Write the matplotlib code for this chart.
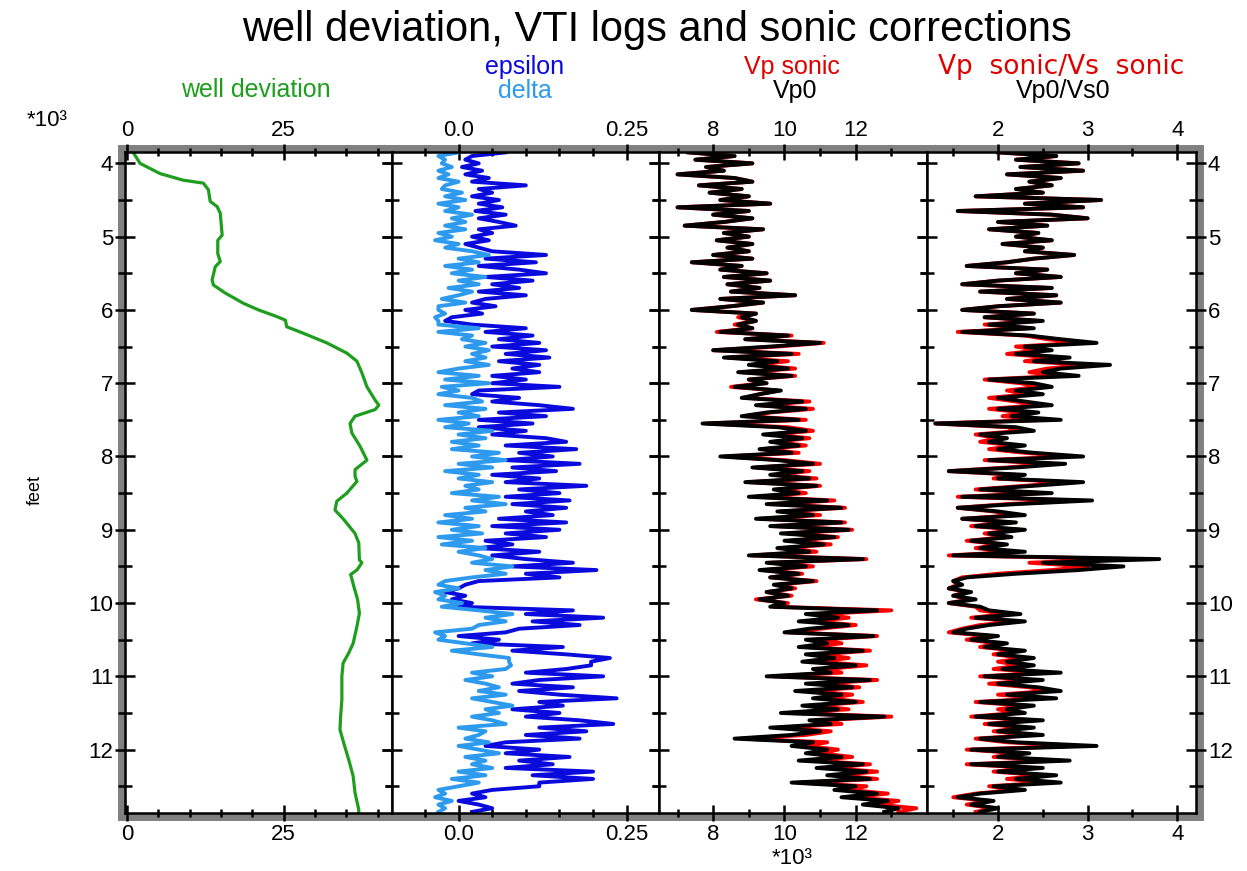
import numpy as np
import matplotlib
matplotlib.use("Agg")
import matplotlib.pyplot as plt
from matplotlib.ticker import FixedLocator, FuncFormatter
from matplotlib.patches import Rectangle

plt.rcParams['font.family'] = ['Liberation Sans', 'DejaVu Sans']

# ---- data ----
# log samples every 50 ft
depth = np.arange(3850, 12900, 50)

# well deviation (deg), read at the bends of the curve
dev_depth = [3850, 4000, 4140, 4230, 4270, 4360, 4520, 4590, 4680, 4980,
             5050, 5230, 5340, 5410, 5590, 5660, 5770, 5910, 6000, 6090,
             6140, 6230, 6320, 6450, 6590, 6700, 6860, 7050, 7230, 7300,
             7360, 7450, 7550, 7680, 7860, 8050, 8180, 8270, 8340, 8500,
             8610, 8730, 8860, 9050, 9180, 9410, 9450, 9550, 9610, 9770,
             9950, 10140, 10320, 10550, 10680, 10820, 11000, 11320, 11550, 11730,
             11910, 12140, 12360, 12590, 12820, 12865]
dev_angle = [1.0, 2.1, 5.3, 9.0, 12.2, 13.0, 13.3, 14.4, 14.9, 15.2,
             14.5, 14.5, 14.9, 14.1, 13.6, 13.8, 15.7, 18.6, 21.0, 23.9,
             25.3, 25.5, 28.2, 31.9, 35.1, 36.7, 37.5, 38.3, 39.6, 40.2,
             39.6, 36.4, 35.6, 35.9, 37.2, 38.3, 36.4, 36.4, 36.7, 35.1,
             33.5, 33.2, 34.6, 36.4, 37.0, 37.1, 37.5, 36.7, 35.7, 36.2,
             36.8, 37.1, 36.7, 36.1, 35.4, 34.5, 34.3, 34.3, 34.1, 34.0,
             34.6, 35.4, 36.1, 36.4, 37.0, 37.0]

epsilon = [
    0.07, 0.02, 0.01, 0.03, 0.005, 0.035, 0.01, 0.045, 0.02, 0.10, 0.03, 0.05, 0.02, 0.06, 0.03, 0.065, 0.025, 0.07, 0.03, 0.06,
    0.085, 0.03, 0.05, 0.02, 0.045, 0.01, 0.03, 0.05, 0.13, 0.04, 0.115, 0.03, 0.09, 0.13, 0.04, 0.11, 0.05, 0.09, 0.03, 0.10,
    0.04, 0.02, 0.055, 0.01, 0.035, -0.01, -0.02, 0.02, 0.10, 0.04, 0.11, 0.06, 0.12, 0.05, 0.13, 0.07, 0.135, 0.06, 0.12, 0.08,
    0.12, 0.05, 0.10, 0.05, 0.15, 0.03, 0.02, 0.09, 0.05, 0.12, 0.17, 0.06, 0.13, 0.03, 0.11, 0.03, 0.10, 0.05, 0.13, 0.16,
    0.07, 0.175, 0.09, 0.14, 0.07, 0.18, 0.08, 0.145, 0.05, 0.12, 0.07, 0.19, 0.09, 0.15, 0.07, 0.165, 0.08, 0.16, 0.10, 0.14,
    0.06, 0.16, 0.05, 0.15, 0.07, 0.13, 0.04, 0.08, 0.03, 0.12, 0.05, 0.10, 0.17, 0.08, 0.205, 0.10, 0.15, 0.03, 0.01, 0.0,
    -0.02, 0.01, -0.01, 0.02, 0.0, 0.17, 0.10, 0.215, 0.11, 0.18, 0.09, 0.07, 0.0, 0.06, 0.02, 0.155, 0.08, 0.16, 0.225, 0.197,
    0.197, 0.16, 0.10, 0.215, 0.12, 0.08, 0.17, 0.09, 0.15, 0.235, 0.12, 0.155, 0.08, 0.15, 0.10, 0.18, 0.23, 0.12, 0.19, 0.10,
    0.18, 0.07, 0.04, 0.12, 0.07, 0.165, 0.09, 0.14, 0.07, 0.20, 0.11, 0.20, 0.12, 0.12, 0.05, 0.02, 0.04, 0.0, 0.03, 0.05,
    0.02]

delta = [
    0.0, -0.03, -0.02, -0.025, -0.01, -0.03, -0.015, -0.03, 0.0, -0.02, -0.025, 0.005, -0.02, 0.01, -0.03, 0.0, -0.02, 0.02, -0.01, 0.01,
    -0.02, 0.01, -0.03, -0.01, -0.035, 0.0, -0.02, 0.02, 0.045, 0.0, 0.03, -0.02, 0.02, -0.01, 0.04, 0.0, 0.03, -0.015, 0.02, 0.0,
    -0.025, 0.01, -0.03, -0.03, -0.02, -0.035, -0.03, -0.03, 0.03, -0.03, 0.02, 0.005, 0.04, 0.01, 0.045, 0.02, 0.04, 0.01, 0.045, 0.0,
    -0.03, 0.03, -0.02, 0.045, -0.025, 0.0, -0.03, 0.02, 0.035, -0.02, 0.04, 0.0, 0.03, -0.03, 0.015, -0.02, 0.05, 0.0, 0.04, -0.01,
    0.03, -0.01, 0.06, 0.02, 0.07, 0.0, 0.05, -0.02, 0.03, 0.0, 0.05, 0.01, 0.03, -0.01, 0.06, 0.02, 0.07, 0.01, 0.04, -0.02,
    0.02, -0.03, 0.03, -0.01, 0.035, -0.03, 0.02, -0.025, 0.04, 0.0, 0.03, 0.05, 0.02, 0.08, 0.04, 0.07, 0.02, -0.02, -0.03, 0.0,
    -0.035, -0.02, -0.03, 0.005, -0.025, 0.03, 0.08, 0.04, 0.07, 0.03, 0.02, -0.035, -0.02, -0.03, 0.01, 0.05, -0.01, 0.03, 0.075, 0.075,
    0.078, 0.07, 0.02, 0.05, 0.01, 0.04, 0.06, 0.03, 0.07, 0.02, 0.05, 0.08, 0.04, 0.06, 0.02, 0.05, 0.07, 0.0, 0.04, 0.03,
    0.01, 0.045, 0.0, 0.03, 0.06, 0.01, 0.04, 0.02, 0.05, 0.0, 0.04, -0.01, 0.03, 0.0, -0.03, -0.02, -0.035, -0.01, -0.03, -0.02,
    -0.03]

# velocities in kft/s
vp_sonic = [
    7.3, 8.6, 7.5, 9.1, 7.8, 8.3, 7.0, 8.6, 9.1, 7.6, 8.8, 7.9, 9.0, 8.2, 9.6, 7.0, 9.0, 8.0, 9.1, 8.3,
    7.2, 9.4, 8.3, 9.0, 8.1, 9.1, 8.4, 9.0, 8.0, 9.1, 7.4, 8.8, 8.2, 9.5, 8.3, 9.6, 8.4, 9.3, 8.5, 10.3,
    8.2, 9.4, 8.5, 7.4, 9.2, 8.7, 9.2, 8.6, 9.1, 8.1, 10.2, 8.9, 11.1, 9.8, 8.0, 10.4, 8.4, 10.1, 9.1, 10.3,
    8.8, 10.3, 9.0, 9.4, 8.5, 9.8, 9.3, 8.9, 10.7, 9.3, 10.8, 9.6, 8.9, 10.6, 7.8, 10.1, 10.8, 9.6, 10.7, 9.7,
    10.6, 9.4, 10.4, 8.3, 10.0, 11.0, 9.2, 10.7, 9.7, 10.9, 9.0, 11.0, 9.8, 10.6, 9.2, 11.4, 9.7, 11.7, 9.9, 11.0,
    9.3, 11.7, 9.7, 11.9, 10.1, 11.5, 10.2, 11.3, 10.0, 10.9, 9.1, 12.3, 9.6, 10.8, 9.4, 10.5, 9.6, 10.9, 9.8, 10.3,
    9.5, 10.2, 9.2, 10.1, 9.7, 13.0, 11.0, 11.8, 10.8, 12.0, 11.0, 10.1, 12.6, 11.0, 11.6, 10.6, 12.4, 11.0, 11.8, 10.9,
    12.3, 11.2, 11.6, 9.7, 12.6, 11.0, 12.1, 10.7, 11.9, 11.2, 12.2, 10.8, 11.8, 10.1, 13.0, 11.0, 11.6, 9.9, 11.3, 10.6,
    8.8, 11.2, 10.6, 11.5, 11.0, 11.9, 10.8, 12.4, 11.2, 12.6, 11.5, 12.6, 10.4, 12.3, 11.8, 12.9, 11.9, 13.2, 12.6, 13.7,
    13.2]

vp0 = [
    7.3, 8.6, 7.5, 9.1, 7.8, 8.3, 7.0, 8.6, 9.1, 7.6, 8.8, 7.9, 9.0, 8.2, 9.6, 7.0, 9.0, 8.0, 9.1, 8.3,
    7.2, 9.4, 8.3, 9.0, 8.1, 9.1, 8.4, 9.0, 8.0, 9.1, 7.4, 8.8, 8.2, 9.5, 8.3, 9.6, 8.4, 9.3, 8.5, 10.3,
    8.2, 9.4, 8.5, 7.4, 9.2, 8.8, 9.2, 8.7, 9.1, 8.2, 10.1, 8.9, 11.0, 9.6, 8.0, 10.2, 8.3, 9.8, 9.0, 10.1,
    8.7, 10.2, 9.0, 9.5, 8.6, 9.9, 9.3, 8.8, 10.5, 9.2, 10.6, 9.5, 8.8, 10.4, 7.7, 9.8, 10.6, 9.4, 10.5, 9.6,
    10.4, 9.3, 10.2, 8.2, 9.8, 10.8, 9.1, 10.5, 9.6, 10.7, 8.9, 10.9, 9.7, 10.4, 9.0, 11.2, 9.5, 11.6, 9.8, 10.8,
    9.2, 11.6, 9.6, 11.8, 9.9, 11.4, 10.0, 11.1, 9.8, 10.7, 9.0, 12.2, 9.5, 10.6, 9.3, 10.4, 9.6, 10.8, 9.7, 10.2,
    9.5, 10.1, 9.3, 10.0, 9.6, 12.6, 10.6, 11.5, 10.4, 11.8, 10.7, 10.0, 12.5, 10.6, 11.2, 10.4, 12.2, 10.6, 11.4, 10.5,
    12.0, 10.8, 11.3, 9.5, 12.4, 10.6, 11.9, 10.3, 11.6, 10.8, 12.0, 10.5, 11.5, 9.9, 12.8, 10.7, 11.3, 9.6, 11.0, 10.2,
    8.6, 10.8, 10.2, 11.2, 10.6, 11.6, 10.4, 12.2, 10.9, 12.3, 11.2, 12.4, 10.2, 12.0, 11.4, 12.6, 11.6, 12.9, 12.2, 13.2,
    12.8]

vpvs_sonic = [
    2.0, 2.65, 2.2, 2.9, 2.25, 2.95, 2.1, 2.7, 2.35, 2.6, 2.2, 2.5, 1.75, 3.15, 2.3, 2.95, 1.55, 2.6, 3.0, 2.0,
    2.55, 1.9, 2.45, 2.2, 2.6, 2.05, 2.5, 2.3, 2.85, 2.4, 2.1, 1.65, 2.55, 2.2, 2.7, 2.0, 1.6, 2.6, 1.8, 2.65,
    2.1, 2.7, 2.0, 1.6, 2.4, 1.85, 2.45, 1.85, 2.35, 1.55, 2.3, 2.55, 2.9, 2.2, 2.45, 2.1, 2.6, 2.3, 3.0, 2.55,
    2.35, 2.7, 1.85, 2.25, 2.45, 2.1, 2.35, 1.9, 2.2, 2.45, 1.9, 2.3, 2.05, 2.55, 1.3, 2.1, 2.25, 1.75, 2.0, 1.8,
    2.2, 1.9, 2.3, 2.8, 1.85, 2.6, 2.1, 1.45, 2.2, 1.95, 2.8, 2.3, 1.75, 2.5, 1.55, 2.9, 2.1, 1.55, 1.95, 2.2,
    1.6, 2.15, 1.7, 2.25, 1.85, 2.1, 1.65, 2.05, 1.75, 2.2, 1.45, 3.5, 2.35, 3.0, 2.6, 2.0, 1.6, 1.5, 1.55, 1.45,
    1.65, 1.5, 1.7, 1.45, 1.75, 1.8, 2.1, 1.7, 2.2, 1.8, 1.6, 1.45, 1.9, 1.65, 2.0, 1.8, 2.2, 1.95, 2.3, 2.0,
    2.25, 1.95, 2.55, 1.8, 2.4, 1.9, 2.35, 2.55, 2.0, 2.5, 1.75, 2.3, 2.0, 2.2, 1.7, 2.4, 1.85, 2.3, 1.95, 2.4,
    1.75, 2.1, 2.9, 1.65, 2.25, 1.95, 2.7, 1.65, 2.4, 1.95, 2.5, 2.1, 2.55, 1.9, 2.2, 1.75, 1.5, 1.9, 1.65, 1.95,
    1.75]

vp0_vs0 = [
    2.0, 2.65, 2.2, 2.9, 2.25, 2.95, 2.1, 2.7, 2.35, 2.6, 2.2, 2.5, 1.75, 3.15, 2.3, 2.95, 1.55, 2.6, 3.0, 2.0,
    2.55, 1.9, 2.45, 2.2, 2.6, 2.05, 2.5, 2.3, 2.85, 2.4, 2.1, 1.65, 2.55, 2.2, 2.7, 2.0, 1.6, 2.6, 1.8, 2.65,
    2.1, 2.7, 2.0, 1.6, 2.4, 1.85, 2.5, 1.9, 2.4, 1.6, 2.35, 2.7, 3.1, 2.3, 2.6, 2.2, 2.8, 2.4, 3.25, 2.7,
    2.5, 2.9, 1.9, 2.4, 2.6, 2.2, 2.5, 2.0, 2.3, 2.6, 2.0, 2.45, 2.15, 2.7, 1.3, 2.2, 2.4, 1.8, 2.1, 1.9,
    2.3, 2.0, 2.4, 2.95, 1.9, 2.75, 2.2, 1.45, 2.3, 2.0, 2.95, 2.4, 1.8, 2.6, 1.6, 3.05, 2.2, 1.55, 2.0, 2.3,
    1.6, 2.2, 1.75, 2.3, 1.9, 2.15, 1.7, 2.1, 1.8, 2.3, 1.5, 3.8, 2.5, 3.4, 2.9, 2.2, 1.65, 1.5, 1.6, 1.45,
    1.7, 1.5, 1.75, 1.45, 1.8, 1.9, 2.25, 1.75, 2.3, 1.9, 1.65, 1.5, 2.0, 1.7, 2.1, 1.85, 2.3, 2.0, 2.4, 2.1,
    2.4, 2.05, 2.7, 1.85, 2.5, 2.0, 2.45, 2.7, 2.1, 2.65, 1.8, 2.4, 2.1, 2.3, 1.75, 2.5, 1.9, 2.4, 2.0, 2.5,
    1.8, 2.2, 3.1, 1.7, 2.35, 2.0, 2.8, 1.7, 2.5, 2.0, 2.65, 2.2, 2.7, 1.95, 2.3, 1.8, 1.55, 1.95, 1.7, 2.0,
    1.8]

# ---- figure ----
W, H = 1247, 871
fig = plt.figure(figsize=(W / 100, H / 100), dpi=100)

def fx(x):
    return x / W

def fy(y):
    return 1 - y / H

edges = [125, 392, 659, 927, 1196]
top_px, bot_px = 152, 813

axes = []
for i in range(4):
    ax = fig.add_axes([fx(edges[i]), fy(bot_px), (edges[i + 1] - edges[i]) / W, (bot_px - top_px) / H])
    axes.append(ax)

# gray frame around the tracks
fig.patches.append(Rectangle((fx(121), fy(817)), (1200 - 121) / W, (817 - 148) / H,
                             transform=fig.transFigure, fill=False, ec='#808080',
                             lw=5, zorder=-1))

kfmt = FuncFormatter(lambda v, p: f'{v / 1000:g}')
for ax in axes:
    ax.set_ylim(12865, 3845)
    ax.yaxis.set_major_locator(FixedLocator(range(4000, 12001, 1000)))
    ax.yaxis.set_minor_locator(FixedLocator(range(4500, 12600, 1000)))
    ax.yaxis.set_major_formatter(kfmt)
    ax.tick_params(axis='y', which='both', direction='inout', left=True, right=True,
                   labelleft=False, labelright=False, width=1.8, labelsize=16)
    ax.tick_params(axis='y', which='major', length=15)
    ax.tick_params(axis='y', which='minor', length=10)
    ax.tick_params(axis='x', which='both', direction='inout', top=True, bottom=True,
                   labeltop=True, labelbottom=True, width=1.8, labelsize=16)
    ax.tick_params(axis='x', which='major', length=12, pad=2)
    ax.tick_params(axis='x', which='minor', length=6)
    for s in ax.spines.values():
        s.set_linewidth(1.8)

axes[0].tick_params(axis='y', labelleft=True, pad=1)
axes[3].tick_params(axis='y', labelright=True, pad=1)

LW = 2.8

# track 1: well deviation
ax = axes[0]
ax.plot(dev_angle, dev_depth, color='#1E9E1E', lw=2.3)
ax.set_xlim(-0.3, 42.3)
ax.xaxis.set_major_locator(FixedLocator([0, 25]))
ax.xaxis.set_minor_locator(FixedLocator([5, 10, 15, 20, 30, 35, 40]))

# track 2: epsilon / delta
ax = axes[1]
ax.plot(epsilon, depth, color='#0A0ADC', lw=LW)
ax.plot(delta, depth, color='#2E9AEE', lw=LW)
ax.set_xlim(-0.099, 0.298)
ax.xaxis.set_major_locator(FixedLocator([0.0, 0.25]))
ax.xaxis.set_minor_locator(FixedLocator([-0.05, 0.05, 0.1, 0.15, 0.2]))
ax.xaxis.set_major_formatter(FuncFormatter(lambda v, p: '0.0' if v == 0 else f'{v:g}'))

# track 3: Vp sonic / Vp0
ax = axes[2]
ax.plot(vp_sonic, depth, color='#FF0000', lw=LW)
ax.plot(vp0, depth, color='black', lw=LW)
ax.set_xlim(6.48, 14.0)
ax.xaxis.set_major_locator(FixedLocator([8, 10, 12]))
ax.xaxis.set_minor_locator(FixedLocator([7, 9, 11, 13]))
ax.xaxis.set_major_formatter(FuncFormatter(lambda v, p: f'{v:g}'))

# track 4: Vp/Vs
ax = axes[3]
ax.plot(vpvs_sonic, depth, color='#FF0000', lw=LW)
ax.plot(vp0_vs0, depth, color='black', lw=LW)
ax.set_xlim(1.207, 4.21)
ax.xaxis.set_major_locator(FixedLocator([2, 3, 4]))
ax.xaxis.set_minor_locator(FixedLocator([1.5, 2.5, 3.5]))
ax.xaxis.set_major_formatter(FuncFormatter(lambda v, p: f'{v:g}'))

# titles and labels
fig.text(fx(657), fy(30), 'well deviation, VTI logs and sonic corrections',
         fontsize=30, ha='center', va='center')
fig.text(fx(256), fy(90), 'well deviation', color='#1E9E1E', fontsize=18, ha='center', va='center')
fig.text(fx(525), fy(67), 'epsilon', color='#0A0ADC', fontsize=18, ha='center', va='center')
fig.text(fx(525), fy(91), 'delta', color='#2E9AEE', fontsize=18, ha='center', va='center')
fig.text(fx(792), fy(67), 'Vp sonic', color='#E00000', fontsize=18, ha='center', va='center')
fig.text(fx(795), fy(91), 'Vp0', color='black', fontsize=18, ha='center', va='center')
fig.text(fx(1061), fy(67), 'Vp  sonic/Vs  sonic', color='#E00000', fontsize=19,
         family='DejaVu Sans', ha='center', va='center')
fig.text(fx(1063), fy(91), 'Vp0/Vs0', color='black', fontsize=18, ha='center', va='center')
fig.text(fx(47), fy(121), '*10³', fontsize=16, ha='center', va='center')
fig.text(fx(792), fy(858), '*10³', fontsize=16, ha='center', va='center')
fig.text(fx(35), fy(490), 'feet', fontsize=13, rotation=90, ha='center', va='center')

fig.savefig('out.png', dpi=100)
